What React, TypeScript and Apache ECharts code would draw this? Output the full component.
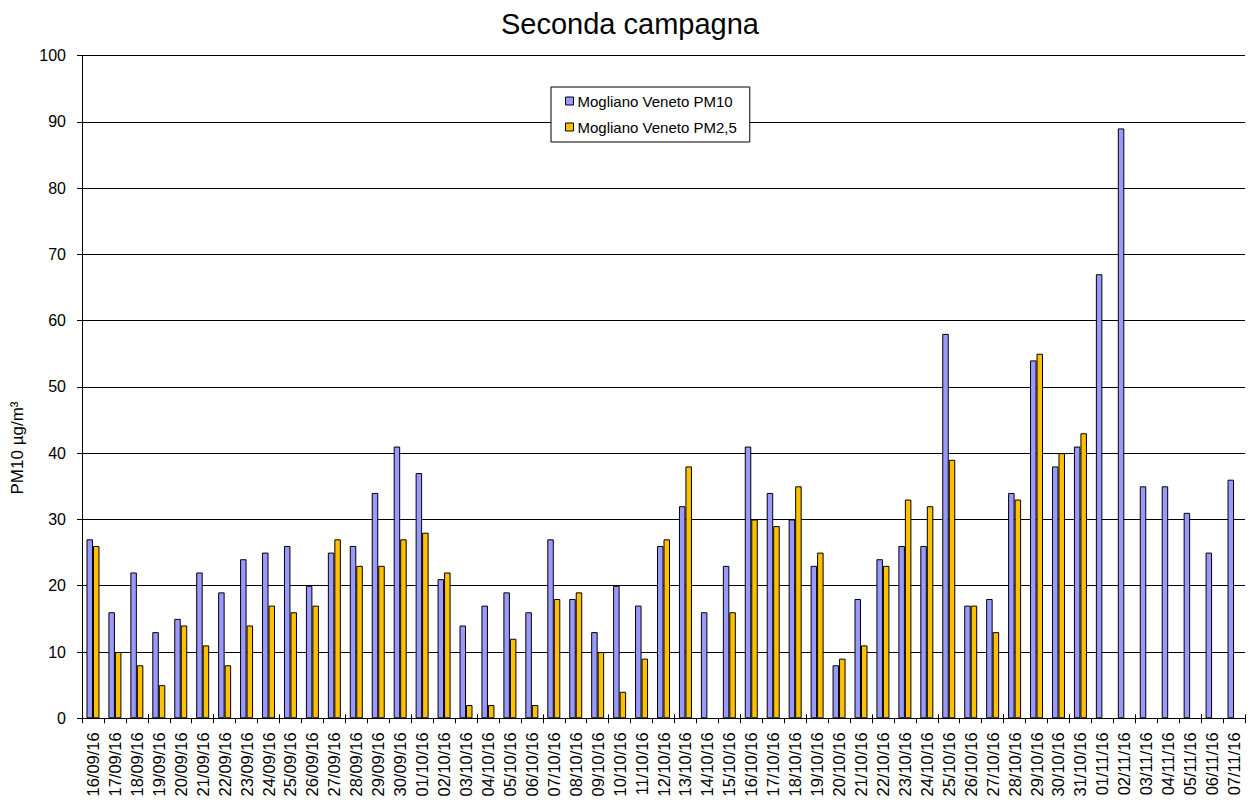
import React, { useEffect, useRef } from "react";
import * as echarts from "echarts";

const categories: string[] = [
  "16/09/16", "17/09/16", "18/09/16", "19/09/16", "20/09/16", "21/09/16", "22/09/16", "23/09/16",
  "24/09/16", "25/09/16", "26/09/16", "27/09/16", "28/09/16", "29/09/16", "30/09/16",
  "01/10/16", "02/10/16", "03/10/16", "04/10/16", "05/10/16", "06/10/16", "07/10/16", "08/10/16",
  "09/10/16", "10/10/16", "11/10/16", "12/10/16", "13/10/16", "14/10/16", "15/10/16", "16/10/16",
  "17/10/16", "18/10/16", "19/10/16", "20/10/16", "21/10/16", "22/10/16", "23/10/16", "24/10/16",
  "25/10/16", "26/10/16", "27/10/16", "28/10/16", "29/10/16", "30/10/16", "31/10/16",
  "01/11/16", "02/11/16", "03/11/16", "04/11/16", "05/11/16", "06/11/16", "07/11/16",
];

const pm10: number[] = [
  27, 16, 22, 13, 15, 22, 19, 24, 25, 26, 20, 25, 26, 34, 41,
  37, 21, 14, 17, 19, 16, 27, 18, 13, 20, 17, 26, 32, 16, 23, 41,
  34, 30, 23, 8, 18, 24, 26, 26, 58, 17, 18, 34, 54, 38, 41,
  67, 89, 35, 35, 31, 25, 36,
];

const pm25: (number | null)[] = [
  26, 10, 8, 5, 14, 11, 8, 14, 17, 16, 17, 27, 23, 23, 27,
  28, 22, 2, 2, 12, 2, 18, 19, 10, 4, 9, 27, 38, null, 16, 30,
  29, 35, 25, 9, 11, 23, 33, 32, 39, 17, 13, 33, 55, 40, 43,
  null, null, null, null, null, null, null,
];

const seriesNames = ["Mogliano Veneto PM10", "Mogliano Veneto PM2,5"];
const yTicks = { min: 0, max: 100, interval: 10 };

const FONT = "'Liberation Sans', Arial, sans-serif";

export default function App() {
  const ref = useRef<HTMLDivElement>(null);

  useEffect(() => {
    if (!ref.current) return;
    const chart = echarts.init(ref.current, undefined, { renderer: "svg" });
    chart.setOption({
      animation: false,
      backgroundColor: "#ffffff",
      textStyle: { fontFamily: FONT },
      grid: { left: 82, right: 5, top: 55.5, bottom: 84.7, containLabel: false },
      graphic: [
        {
          type: "text",
          x: 630,
          y: 24,
          style: {
            text: "Seconda campagna",
            fontSize: 29,
            fontFamily: FONT,
            fill: "#000",
            textAlign: "center",
            textVerticalAlign: "middle",
          },
        },
        {
          type: "text",
          x: 17,
          y: 448,
          rotation: Math.PI / 2,
          style: {
            text: "PM10 µg/m³",
            fontSize: 17,
            fontFamily: FONT,
            fill: "#000",
            textAlign: "center",
            textVerticalAlign: "middle",
          },
        },
      ],
      legend: {
        orient: "vertical",
        left: 551,
        top: 87,
        backgroundColor: "#ffffff",
        borderColor: "#000",
        borderWidth: 1,
        padding: [6, 13, 7, 14],
        itemGap: 10,
        itemWidth: 8,
        itemHeight: 8,
        icon: "rect",
        itemStyle: { borderColor: "#000", borderWidth: 1 },
        textStyle: { fontSize: 15, fontFamily: FONT, color: "#000", lineHeight: 16, padding: [0, 0, 0, -1] },
        data: seriesNames,
      },
      xAxis: [
        {
          type: "category",
          data: categories,
          axisLine: { lineStyle: { color: "#000", width: 1 } },
          axisTick: { show: true, length: 5, lineStyle: { color: "#000" } },
          axisLabel: {
            interval: 0,
            rotate: 90,
            margin: 14,
            fontSize: 16.5,
            fontFamily: FONT,
            color: "#000",
          },
          splitLine: { show: false },
        },
        {
          type: "category",
          data: categories,
          position: "bottom",
          axisLine: { show: false },
          axisTick: { show: true, inside: true, length: 4, lineStyle: { color: "#000" } },
          axisLabel: { show: false },
          splitLine: { show: false },
        },
      ],
      yAxis: {
        type: "value",
        min: yTicks.min,
        max: yTicks.max,
        interval: yTicks.interval,
        axisLine: { show: true, lineStyle: { color: "#000", width: 1 } },
        axisTick: { show: true, length: 5, lineStyle: { color: "#000" } },
        axisLabel: { margin: 16, fontSize: 16, fontFamily: FONT, color: "#000" },
        splitLine: { show: true, lineStyle: { color: "#000", width: 1 } },
      },
      series: [
        {
          name: seriesNames[0],
          type: "bar",
          data: pm10,
          barWidth: 6.5,
          barGap: "0%",
          itemStyle: { color: "#9999FF", borderColor: "#000", borderWidth: 1 },
        },
        {
          name: seriesNames[1],
          type: "bar",
          data: pm25,
          barWidth: 6.5,
          barGap: "0%",
          itemStyle: { color: "#FFC000", borderColor: "#000", borderWidth: 1 },
        },
      ],
    });
    return () => chart.dispose();
  }, []);

  return <div ref={ref} style={{ width: 1250, height: 803, position: "absolute", left: 0, top: 0 }} />;
}
